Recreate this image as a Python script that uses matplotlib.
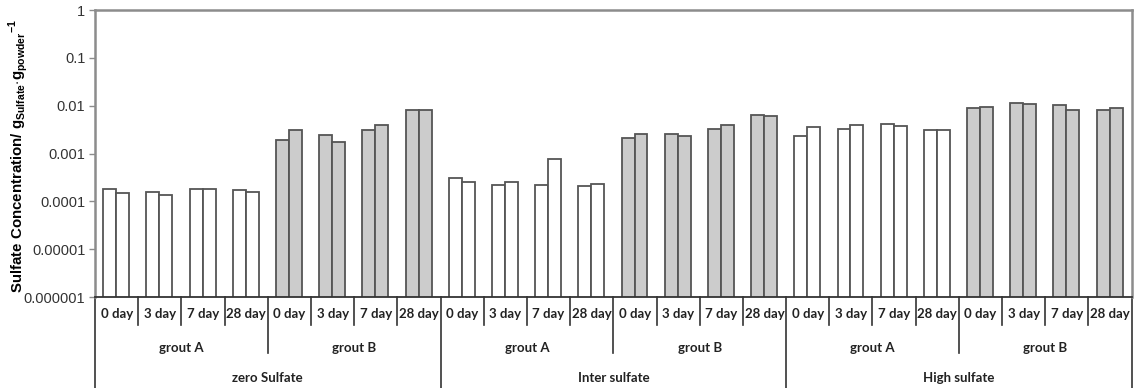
import numpy as np
import matplotlib
matplotlib.use("Agg")
from matplotlib import pyplot as plt
from matplotlib.lines import Line2D

# category labels (three levels)
sulfate_levels = ["zero Sulfate", "Inter sulfate", "High sulfate"]
grouts = ["grout A", "grout B"]
days = ["0 day", "3 day", "7 day", "28 day"]

# two replicate bars per category
first_bar = [1.84e-4, 1.54e-4, 1.84e-4, 1.75e-4,
             1.89e-3, 2.49e-3, 3.11e-3, 8.1e-3,
             3.06e-4, 2.22e-4, 2.22e-4, 2.08e-4,
             2.12e-3, 2.57e-3, 3.31e-3, 6.5e-3,
             2.29e-3, 3.27e-3, 4.2e-3, 3.11e-3,
             8.8e-3, 1.12e-2, 1.05e-2, 8.3e-3]
second_bar = [1.52e-4, 1.35e-4, 1.84e-4, 1.54e-4,
              3.11e-3, 1.78e-3, 3.89e-3, 8.1e-3,
              2.52e-4, 2.52e-4, 7.6e-4, 2.29e-4,
              2.57e-3, 2.34e-3, 4.0e-3, 6.1e-3,
              3.53e-3, 3.89e-3, 3.7e-3, 3.11e-3,
              9.2e-3, 1.07e-2, 8.0e-3, 8.9e-3]

ytick_values = [1e-6, 1e-5, 1e-4, 1e-3, 1e-2, 1e-1, 1]
ytick_labels = ["0.000001", "0.00001", "0.0001", "0.001", "0.01", "0.1", "1"]

edge = "#555555"
spine_col = "#8c8c8c"
label_font = ["Lato", "DejaVu Sans"]

plt.rcParams["mathtext.fontset"] = "custom"
plt.rcParams["mathtext.rm"] = "Liberation Sans"
plt.rcParams["mathtext.bf"] = "Liberation Sans:bold"

fig = plt.figure(figsize=(11.41, 3.88), dpi=100)
ax = fig.add_axes([0.0833, 0.2345, 0.9085, 0.7395])

n_cat = len(sulfate_levels) * len(grouts) * len(days)
centers = np.arange(n_cat) + 0.49
colors = []
for s in sulfate_levels:
    for g in grouts:
        for d in days:
            colors.append("white" if g == "grout A" else "#cccccc")

width = 0.30
ax.bar(centers - width / 2, first_bar, width, color=colors, edgecolor=edge, linewidth=1.3)
ax.bar(centers + width / 2, second_bar, width, color=colors, edgecolor=edge, linewidth=1.3)

ax.set_yscale("log")
ax.set_ylim(1e-6, 1)
ax.set_xlim(0, n_cat)
ax.set_yticks(ytick_values)
ax.set_yticklabels(ytick_labels, fontsize=10.5, color="#333333", family="Liberation Sans")
ax.yaxis.set_minor_locator(matplotlib.ticker.NullLocator())
ax.tick_params(axis="y", length=4, color=spine_col, width=1, pad=3)
ax.set_xticks([])

for side in ["left", "top", "right"]:
    ax.spines[side].set_color(spine_col)
    ax.spines[side].set_linewidth(1.8)
ax.spines["bottom"].set_color("#333333")
ax.spines["bottom"].set_linewidth(1.3)

ax.set_ylabel(r"Sulfate Concentration/ g$_{\mathbf{Sulfate}}$$\cdot$g$_{\mathbf{powder}}$$^{\mathbf{-1}}$",
              fontsize=10.8, fontweight="bold", family="Liberation Sans", labelpad=2)
ax.yaxis.set_label_coords(-0.063, 0.49)

# hierarchical category axis
trans = ax.get_xaxis_transform()
line_kw = dict(transform=trans, color="#333333", linewidth=1.2, clip_on=False)
y_day, y_grout, y_sulf = -0.059, -0.178, -0.282
len_day, len_grout, len_sulf = -0.098, -0.195, -0.32

for i in range(n_cat):
    ax.text(i + 0.5, y_day, days[i % 4], transform=trans, ha="center", va="center",
            fontsize=9.5, fontweight="bold", family=label_font, color="#222222")
for j in range(n_cat // 4):
    ax.text(j * 4 + 2, y_grout, grouts[j % 2], transform=trans, ha="center", va="center",
            fontsize=9.5, fontweight="bold", family=label_font, color="#222222")
for k, s in enumerate(sulfate_levels):
    ax.text(k * 8 + 4, y_sulf, s, transform=trans, ha="center", va="center",
            fontsize=9.5, fontweight="bold", family=label_font, color="#222222")

for b in range(n_cat + 1):
    if b % 8 == 0:
        bottom = len_sulf
    elif b % 4 == 0:
        bottom = len_grout
    else:
        bottom = len_day
    ax.add_line(Line2D([b, b], [0, bottom], **line_kw))

fig.savefig("out.png", dpi=100)
